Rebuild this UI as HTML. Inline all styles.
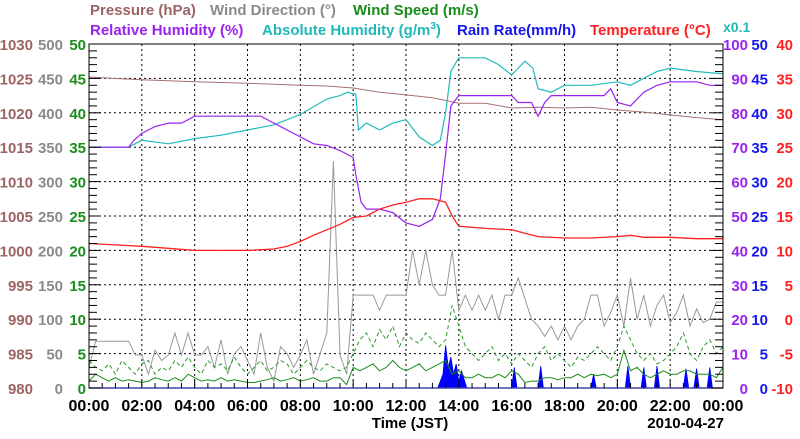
<!DOCTYPE html>
<html><head><meta charset="utf-8"><style>
body{margin:0;background:#fff;}
svg text{font-family:"Liberation Sans",sans-serif;font-weight:bold;}
</style></head><body>
<svg id="chart" width="800" height="434" xmlns="http://www.w3.org/2000/svg">
<g id="legend" font-size="15">
<text x="90" y="15" fill="#9c6464">Pressure (hPa)</text>
<text x="210" y="15" fill="#8a8a8a">Wind Direction (°)</text>
<text x="353" y="15" fill="#1a8c1a">Wind Speed (m/s)</text>
<text x="90" y="35" fill="#9a22ee">Relative Humidity (%)</text>
<text x="262" y="35" fill="#22b8b8">Absolute Humidity (g/m<tspan font-size="10" dy="-6">3</tspan><tspan dy="6">)</tspan></text>
<text x="457" y="35" fill="#1515ee">Rain Rate(mm/h)</text>
<text x="590" y="35" fill="#ff2020">Temperature (°C)</text>
<text x="723" y="32" font-size="14" fill="#22b8b8">x0.1</text>
</g>
<g id="grid"></g><g id="series"></g><g id="axes"></g>
</svg>
<script>
const hours=[0,2,4,6,8,10,12,14,16,18,20,22,24];
const xLabels=["00:00","02:00","04:00","06:00","08:00","10:00","12:00","14:00","16:00","18:00","20:00","22:00","00:00"];
const pressTicks=[980,985,990,995,1000,1005,1010,1015,1020,1025,1030];
const dirTicks=[0,50,100,150,200,250,300,350,400,450,500];
const spdTicks=[0,5,10,15,20,25,30,35,40,45,50];
const rhTicks=[0,10,20,30,40,50,60,70,80,90,100];
const rainTicks=[0,5,10,15,20,25,30,35,40,45,50];
const tempTicks=[-10,-5,0,5,10,15,20,25,30,35,40];

const tempT=[0,1,2,3,4,5,6,7,7.5,8,8.5,9,9.5,10,10.5,11,11.5,12,12.5,13,13.5,13.75,14,15,16,16.5,17,18,19,20,20.5,21,22,23,24];
const tempV=[11,10.8,10.6,10.3,10,10,10,10.2,10.6,11.3,12.2,13,13.8,14.8,15,16,16.6,17,17.5,17.5,17,15,13.5,13.2,13,12.5,12,11.8,11.8,12,12.2,11.9,11.9,11.7,11.7];
const rhT=[0,1.5,1.7,2,2.5,3,3.5,4,5,6,6.5,7,7.5,8,8.5,9,9.5,10,10.1,10.3,10.5,11,11.5,12,12.5,13,13.3,13.5,13.7,14,15,16,16.25,16.75,17,17.25,17.5,19.5,19.75,20,20.5,21,21.5,22,23,23.5,24];
const rhV=[70,70,72,74,76,77,77,79,79,79,79,77,75,73,71,70.5,69,67,62,54,52,52,51,48,47,49,55,68,82,85,85,85,83,83,79,83,85,85,87,83,82,86,88,89,89,88,88];
const ahT=[0,1.5,2,3,4,5,6,7,8,9,9.5,9.8,10,10.1,10.2,10.5,11,11.5,12,12.5,13,13.3,13.5,13.7,14,15,15.5,16,16.5,16.8,17,17.5,18,19,20,20.5,21,21.5,22,23,24];
const ahV=[70,70,72,71,72.5,73.5,75,76.5,79.5,84,85,86,85.5,85.5,75,77,75,77,78,73,70.5,72,80,92,96,96,94,91,95,93,87,86,88,88,89,88,90,92,93,92,91.3];
const prT=[0,2,4,6,8,9,10,11,12,13,14,15,16,17,18,19,20,21,22,23,24];
const prV=[1025.2,1024.8,1024.5,1024.3,1024.0,1023.9,1023.6,1023.0,1022.6,1022.2,1021.4,1021.4,1020.7,1020.8,1020.7,1020.8,1020.4,1020.1,1019.7,1019.3,1019.0];
const dirV=[30,68,68,68,68,68,68,48,48,20,55,40,48,80,48,80,48,48,60,30,70,20,50,60,40,20,80,30,10,60,50,30,48,70,20,50,80,330,48,20,135,135,135,135,113,135,135,135,135,200,150,200,150,135,135,200,113,135,113,135,113,135,100,135,135,160,130,100,90,75,90,70,90,70,90,100,135,135,90,110,135,90,160,100,135,90,120,135,95,110,135,90,115,95,100,125,125];
const gustV=[4,3,2.5,3.5,2,4,3,2,3.5,4,2,3,2.5,4,3,4.5,3,2,4,3,3.5,2.5,4.5,3,2,3,4,2.5,3,4,3.5,2,3,4,3,2.5,3.5,3,2.5,3,5,7,8,6,8.5,7,9,6,8,7,6.5,8,7,6,7,12,9,6,5,4,5,6,4,5,3.5,5,4,3,5,6,4,5,4,3,4.5,4,5,6,5,4,6,9,7,5,4,5,3.5,4,5,6,8,5,4,6,7,5,6];
const speedV=[1,2,1.5,1,1.5,1,1.2,1,0.8,1,1.5,1.2,1,1.5,1,2,1.5,1,1.2,1,1.5,1,1.2,1,0.8,0.8,1,1.2,1.5,1,1.2,1.5,1,1.2,1.5,1,1,1.5,1.5,0.5,3,2.5,3,3.5,2.5,3,4,3,2.5,3,3.5,2.5,3,3.5,4,2,2.5,1.5,1.5,2,1.5,1.5,2,1.5,2.5,2,0.8,1,1,1.5,1.5,1.2,1.5,1.5,2,1.5,2,1.8,2,1.5,2,5.5,2.5,3,2,1.5,2,2.5,2,2,2.5,2.5,2,2,2,1.5,3];
const rainT=[13.2,13.4,13.5,13.6,13.7,13.8,13.9,14.0,14.1,14.3,16.0,16.1,16.2,17.0,17.1,17.2,19.0,19.1,19.2,20.3,20.4,20.5,20.9,21.0,21.1,21.4,21.5,21.6,22.5,22.6,22.7,22.9,23.0,23.1,23.4,23.5,23.6];
const rainV=[0,2,6.2,3,4.5,2,3.5,1,2.5,0,0,3,0,0,3.2,0,0,2,0,0,3.2,0,0,3,0,0,3.2,0,0,2.8,0,0,2.8,0,0,3,0];

const L=89,R=723,T=44,B=388,NS="http://www.w3.org/2000/svg";
const X=h=>L+(R-L)*h/24;
const lin=(a,b)=>v=>B-(B-T)*(v-a)/(b-a);
const yP=lin(980,1030),yD=lin(0,500),yS=lin(0,50),yRH=lin(0,100),yR=lin(0,50),yT=lin(-10,40);
function mk(tag,attrs,parent){const e=document.createElementNS(NS,tag);for(const k in attrs)e.setAttribute(k,attrs[k]);parent.appendChild(e);return e;}
const grid=document.getElementById('grid'),ser=document.getElementById('series'),ax=document.getElementById('axes');
const tq=i=>i*0.25;
for(let i=1;i<10;i++){const y=T+(B-T)*i/10;const g=mk('line',{x1:L,x2:R,y1:y,y2:y,stroke:'#000','stroke-width':1,'stroke-dasharray':'2,3'},grid);

}
for(let i=1;i<hours.length-1;i++){const x=X(hours[i]);const g=mk('line',{x1:x,x2:x,y1:T,y2:B,stroke:'#000','stroke-width':1,'stroke-dasharray':'2,3'},grid);

}
function path(ts,vs,yf,attrs,name){let d='';vs.forEach((v,i)=>{d+=(i?'L':'M')+X(ts[i]).toFixed(1)+','+yf(v).toFixed(1);});const p=mk('path',Object.assign({d:d,fill:'none'},attrs),ser);

return p;}
{let d='M'+X(rainT[0])+','+B;rainT.forEach((t,i)=>{d+='L'+X(t).toFixed(1)+','+yR(rainV[i]).toFixed(1);});d+='L'+X(rainT[rainT.length-1])+','+B+'Z';
const p=mk('path',{d:d,fill:'#0000ff',stroke:'#0000ff','stroke-width':0.8},ser);

}
const qT=dirV.map((_,i)=>tq(i));
path(qT,dirV,yD,{stroke:'#999','stroke-width':1},'wind-direction-line');
path(qT,gustV,yS,{stroke:'#2a9a2a','stroke-width':1,'stroke-dasharray':'4,3'},'wind-gust-line');
path(qT,speedV,yS,{stroke:'#1a8c1a','stroke-width':1},'wind-speed-line');
path(prT,prV,yP,{stroke:'#a87070','stroke-width':1},'pressure-line');
path(ahT,ahV,yRH,{stroke:'#22bbbb','stroke-width':1.2},'absolute-humidity-line');
path(rhT,rhV,yRH,{stroke:'#9a22ee','stroke-width':1.2},'relative-humidity-line');
path(tempT,tempV,yT,{stroke:'#ff2020','stroke-width':1.3},'temperature-line');
{const f=mk('rect',{x:L,y:T,width:R-L,height:B-T,fill:'none',stroke:'#000','stroke-width':1},ax);

}
mk('line',{x1:L,x2:R,y1:B,y2:B,stroke:'#4444aa','stroke-width':1.5},ax);
for(let i=0;i<=50;i++){const y=T+(B-T)*i/50;const len=i%5?8:12;
mk('line',{x1:L,x2:L+len,y1:y,y2:y,stroke:'#000'},ax);mk('line',{x1:R-len,x2:R,y1:y,y2:y,stroke:'#000'},ax);}
for(let i=0;i<=48;i++){const x=X(i/2);mk('line',{x1:x,x2:x,y1:B,y2:B-(i%4?5:8),stroke:'#000'},ax);}
function lbl(txt,x,y,fill,anchor,name,fs){const t=mk('text',{x:x,y:y,fill:fill,'text-anchor':anchor,'font-size':fs||15},ax);t.textContent=txt;

}
for(let i=0;i<11;i++){const y=T+(B-T)*(10-i)/10+6;
lbl(pressTicks[i],33,y,'#9c6464','end','pressure-tick-label');
lbl(dirTicks[i],63,y,'#8a8a8a','end','wind-direction-tick-label');
lbl(spdTicks[i],86,y,'#1a8c1a','end','wind-speed-tick-label');
lbl(rhTicks[i],748,y,'#9a22ee','end','humidity-tick-label');
lbl(rainTicks[i],768,y,'#1515ee','end','rain-tick-label');
lbl(tempTicks[i],793,y,'#ff2020','end','temperature-tick-label');}
hours.forEach((h,i)=>lbl(xLabels[i],X(h),411,'#000','middle','x-tick-label',16));
lbl('Time (JST)',410,428,'#000','middle','x-axis-title',15);
lbl('2010-04-27',724,428,'#000','end','date-label',15);
</script>
</body></html>
